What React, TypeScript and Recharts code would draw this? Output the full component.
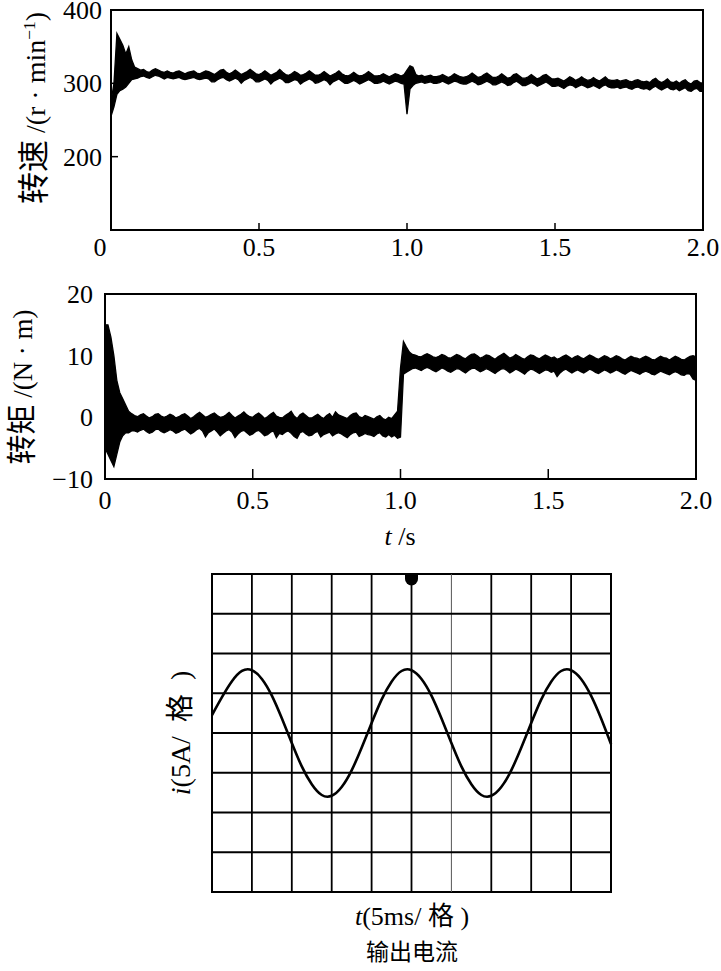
import React from 'react';
import {
  ComposedChart,
  LineChart,
  Line,
  Area,
  XAxis,
  YAxis,
  ReferenceArea,
  ReferenceLine,
  ReferenceDot,
} from 'recharts';

// sampling interval of the two measured traces (s)
const SAMPLE_STEP = 0.01;

// rotor speed envelope, r/min (lower / upper edge of the noisy trace)
const speedLow = [
  255, 268, 285, 290, 292, 295, 300, 305, 306, 307,
  309, 310, 308, 307, 309, 311, 310, 308, 306, 308,
  307, 306, 307, 308, 306, 305, 306, 307, 308, 306,
  305, 306, 307, 306, 302, 302, 305, 307, 308, 305,
  303, 305, 307, 305, 300, 304, 306, 308, 306, 302,
  302, 304, 306, 304, 299, 303, 305, 307, 305, 301,
  301, 303, 305, 304, 299, 302, 304, 306, 304, 300,
  301, 303, 305, 303, 298, 302, 304, 306, 303, 300,
  300, 302, 304, 302, 299, 301, 303, 305, 303, 300,
  300, 301, 303, 301, 299, 301, 303, 302, 300, 299,
  258, 292, 297, 300, 301, 302, 300, 301, 302, 300,
  300, 301, 303, 301, 299, 301, 303, 302, 300, 299,
  299, 301, 303, 301, 298, 299, 301, 303, 301, 298,
  298, 300, 302, 300, 297, 298, 301, 303, 300, 297,
  297, 299, 301, 299, 296, 298, 300, 302, 299, 296,
  296, 297, 295, 293, 296, 298, 297, 294, 296, 298,
  296, 294, 295, 297, 295, 293, 296, 298, 295, 294,
  294, 295, 293, 294, 295, 293, 292, 294, 295, 293,
  292, 293, 291, 294, 296, 293, 291, 293, 295, 292,
  291, 293, 290, 292, 294, 290, 289, 292, 293, 289,
  289,
];
const speedHigh = [
  275, 300, 368, 360, 352, 340, 350, 332, 322, 320,
  318, 319, 316, 315, 318, 320, 318, 316, 315, 317,
  315, 314, 316, 317, 315, 313, 315, 316, 317, 314,
  313, 315, 317, 316, 314, 312, 315, 318, 319, 315,
  313, 315, 318, 315, 312, 314, 316, 319, 316, 313,
  312, 314, 317, 314, 311, 313, 315, 319, 315, 312,
  311, 313, 316, 314, 311, 312, 314, 317, 314, 311,
  311, 313, 316, 313, 310, 312, 314, 317, 313, 311,
  310, 312, 315, 312, 310, 311, 313, 316, 313, 310,
  310, 311, 313, 311, 309, 311, 313, 312, 310, 312,
  318, 324, 322, 312, 310, 311, 309, 310, 311, 309,
  309, 310, 312, 310, 308, 310, 313, 311, 309, 308,
  309, 311, 314, 311, 308, 309, 312, 314, 311, 308,
  308, 310, 313, 310, 307, 308, 312, 313, 310, 307,
  307, 309, 312, 309, 306, 308, 311, 312, 309, 306,
  306, 307, 305, 303, 306, 309, 307, 304, 306, 309,
  306, 304, 305, 308, 305, 303, 306, 309, 305, 304,
  304, 305, 303, 304, 305, 303, 302, 304, 305, 303,
  302, 303, 301, 305, 307, 303, 301, 303, 306, 302,
  301, 303, 300, 303, 305, 301, 299, 303, 304, 301,
  300,
];

// electromagnetic torque envelope, N·m
const torqueLow = [
  -5, -6, -7, -8, -6, -4, -3, -2.5, -2.5, -2.2,
  -2.2, -2.4, -2.1, -1.9, -2.3, -2.6, -2.4, -2.0, -1.9, -2.3,
  -2.5, -2.3, -2.0, -2.2, -2.6, -2.4, -2.1, -1.9, -2.3, -2.7,
  -2.4, -2.0, -1.8, -2.2, -3.2, -2.5, -2.2, -1.9, -2.4, -3.0,
  -2.6, -2.2, -2.0, -2.4, -3.3, -2.7, -2.3, -2.1, -2.5, -2.9,
  -2.7, -2.3, -2.1, -2.5, -3.0, -2.8, -2.4, -2.2, -3.3, -2.6,
  -2.8, -2.4, -2.2, -2.6, -3.1, -3.4, -2.5, -2.3, -2.7, -3.0,
  -2.9, -2.5, -2.3, -3.2, -2.8, -2.6, -2.4, -3.0, -2.7, -2.5,
  -2.7, -3.0, -3.3, -2.8, -2.5, -2.4, -3.1, -2.9, -2.6, -2.8,
  -2.9, -3.1, -2.7, -2.5, -3.0, -3.2, -2.8, -3.2, -2.9, -3.4,
  -3.2, 7.0, 7.3, 7.6, 7.9, 8.0, 7.8, 7.6, 7.9, 8.1,
  7.9, 7.6, 7.4, 7.7, 8.0, 7.8, 7.5, 7.3, 7.6, 7.9,
  7.8, 7.5, 7.2, 7.6, 7.9, 8.0, 7.7, 7.4, 7.6, 7.9,
  7.7, 7.4, 7.1, 7.5, 7.8, 7.9, 7.6, 7.2, 7.5, 7.8,
  7.6, 7.3, 7.0, 7.5, 7.8, 7.7, 7.4, 7.1, 7.4, 7.7,
  7.6, 7.3, 7.5, 6.6, 7.2, 7.6, 7.8, 7.5, 7.2, 7.5,
  7.7, 7.4, 7.2, 7.5, 7.8, 7.6, 7.3, 7.1, 7.4, 7.7,
  7.5, 7.2, 7.4, 7.7, 7.5, 7.2, 7.0, 7.3, 7.6, 7.4,
  7.2, 7.0, 7.3, 7.5, 7.3, 7.0, 6.9, 7.2, 7.5, 7.3,
  7.1, 6.9, 7.2, 7.4, 7.2, 6.9, 6.8, 7.1, 7.0, 6.2,
  6.0,
];
const torqueHigh = [
  15, 15, 13, 10, 6, 4, 3, 2, 1, 0.6,
  0.3, 0.1, 0.4, 0.6, 0.2, -0.1, 0.1, 0.5, 0.6, 0.2,
  0.0, 0.2, 0.5, 0.3, -0.1, 0.1, 0.4, 0.6, 0.2, -0.2,
  0.1, 0.5, 0.8, 0.4, 0.0, 0.2, 0.5, 0.7, 0.3, 0.0,
  0.1, 0.4, 0.8, 0.3, -0.1, 0.2, 0.5, 0.9, 0.4, 0.1,
  0.0, 0.4, 0.7, 0.3, -0.2, 0.1, 0.5, 0.8, 0.2, 0.0,
  -0.1, 0.3, 0.6, 1.0, 0.2, -0.2, 0.4, 0.7, 0.3, -0.1,
  -0.1, 0.2, 0.5, 0.1, -0.2, 0.3, 0.6, 0.0, 0.9, 0.4,
  0.2, 0.0, -0.2, 0.3, 0.6, 0.7, 0.1, -0.1, 0.3, 0.1,
  -0.1, -0.3, 0.1, 0.3, -0.2, -0.4, 0.0, -0.2, 0.4, 1.0,
  8.0, 12.3, 11.4, 10.6, 10.2, 10.1, 9.9, 9.8, 10.1, 10.3,
  10.1, 9.8, 9.7, 9.9, 10.2, 10.0, 9.7, 9.6, 9.9, 10.2,
  10.0, 9.7, 9.5, 9.9, 10.2, 10.3, 10.0, 9.6, 9.8, 10.1,
  10.0, 9.7, 9.4, 9.8, 10.1, 10.4, 10.0, 9.6, 9.8, 10.2,
  9.9, 9.6, 9.4, 9.8, 10.1, 10.0, 9.7, 9.5, 9.8, 10.1,
  9.9, 9.6, 9.8, 9.4, 9.6, 9.9, 10.1, 9.8, 9.5, 9.8,
  10.0, 9.7, 9.5, 9.8, 10.1, 9.9, 9.6, 9.4, 9.7, 10.0,
  9.8, 9.5, 9.7, 10.0, 9.8, 9.5, 9.3, 9.6, 9.9, 9.7,
  9.6, 9.4, 9.7, 9.9, 9.7, 9.4, 9.3, 9.6, 9.9, 9.7,
  9.6, 9.3, 9.6, 9.9, 9.7, 9.4, 9.3, 9.6, 9.9, 10.0,
  9.8,
];

// output current on the scope, in divisions (x: 5 ms/div, y: 5 A/div)
const currentDiv = [
  0, 0.25, 0.5, 0.75, 1, 1.25, 1.5, 1.75, 2, 2.25,
  2.5, 2.75, 3, 3.25, 3.5, 3.75, 4, 4.25, 4.5, 4.75,
  5, 5.25, 5.5, 5.75, 6, 6.25, 6.5, 6.75, 7, 7.25,
  7.5, 7.75, 8, 8.25, 8.5, 8.75, 9, 9.25, 9.5, 9.75, 10,
];
const currentVal = [
  0.45, 0.9, 1.3, 1.56, 1.58, 1.36, 0.94, 0.37, -0.25, -0.84,
  -1.29, -1.56, -1.58, -1.36, -0.94, -0.37, 0.25, 0.84, 1.29, 1.56,
  1.58, 1.36, 0.94, 0.37, -0.25, -0.84, -1.29, -1.56, -1.58, -1.36,
  -0.94, -0.37, 0.25, 0.84, 1.29, 1.56, 1.58, 1.36, 0.94, 0.37, -0.28,
];

const timeTicks = [0, 0.5, 1, 1.5, 2];
const speedTicks = [200, 300, 400];
const torqueTicks = [-10, 0, 10, 20];
const gridCols = [1, 2, 3, 4, 5, 6, 7, 8, 9];
const gridRows = [-3, -2, -1, 0, 1, 2, 3];

const speedData = speedLow.map((lo, i) => ({
  t: +(i * SAMPLE_STEP).toFixed(2),
  band: [lo, speedHigh[i]],
}));
const torqueData = torqueLow.map((lo, i) => ({
  t: +(i * SAMPLE_STEP).toFixed(2),
  band: [lo, torqueHigh[i]],
}));
const currentData = currentDiv.map((d, i) => ({ d, i: currentVal[i] }));

const SERIF = "'Liberation Serif', 'Times New Roman', serif";
const CJK = "'Noto Sans CJK SC', sans-serif";
const fmtTime = (v: number) => (v === 0 ? '0' : v.toFixed(1));
const fmtNum = (v: number) => (v < 0 ? '\u2212' + Math.abs(v) : String(v));

const BottomTick = ({ x, y, payload, zeroShift = 0 }: any) => (
  <text
    x={x + (payload.value === 0 ? zeroShift : 0)}
    y={y}
    dy="0.71em"
    textAnchor="middle"
    fill="#000"
    fontSize={26}
    fontFamily={SERIF}
  >
    {fmtTime(payload.value)}
  </text>
);

const LeftTick = ({ x, y, payload }: any) => (
  <text x={x} y={y} dy="0.34em" textAnchor="end" fill="#000" fontSize={26} fontFamily={SERIF}>
    {fmtNum(payload.value)}
  </text>
);

const TriggerMark = (props: any) => {
  const { cx, cy } = props;
  return (
    <path
      d={`M${cx - 6.5},${cy - 1} L${cx + 6.5},${cy - 1} L${cx + 6.5},${cy + 5} A6.5,6.5 0 0 1 ${cx - 6.5},${cy + 5} Z`}
      fill="#000"
    />
  );
};

const Label = ({ x, y, rotate, size = 26, children }: any) => (
  <div
    style={{
      position: 'absolute',
      left: x,
      top: y,
      transform: `translate(-50%, -50%)${rotate ? ' rotate(-90deg)' : ''}`,
      whiteSpace: 'nowrap',
      fontSize: size,
      lineHeight: 1,
      fontFamily: SERIF,
      color: '#000',
    }}
  >
    {children}
  </div>
);

const Han = ({ children, size }: any) => (
  <span style={{ fontFamily: CJK, fontSize: size }}>{children}</span>
);

export default function App() {
  return (
    <div style={{ position: 'absolute', left: 0, top: 0, width: 721, height: 971, background: '#fff', overflow: 'hidden' }}>
      {/* speed */}
      <div style={{ position: 'absolute', left: 0, top: 0 }}>
        <ComposedChart width={721} height={270} data={speedData} margin={{ top: 10, right: 18, bottom: 8, left: 51 }}>
          <XAxis
            dataKey="t"
            type="number"
            domain={[0, 2]}
            ticks={timeTicks}
            height={32}
            axisLine={false}
            tickSize={-7}
            tickMargin={15}
            tickLine={{ stroke: '#000', strokeWidth: 1.5 }}
            tick={<BottomTick zeroShift={-11} />}
            interval={0}
          />
          <YAxis
            type="number"
            domain={[100, 400]}
            ticks={speedTicks}
            width={60}
            axisLine={false}
            tickSize={-7}
            tickMargin={16}
            tickLine={{ stroke: '#000', strokeWidth: 1.5 }}
            tick={<LeftTick />}
            interval={0}
          />
          <Area
            dataKey="band"
            type="linear"
            stroke="#000"
            strokeWidth={1.3}
            fill="#000"
            fillOpacity={1}
            dot={false}
            activeDot={false}
            isAnimationActive={false}
          />
          <ReferenceArea x1={0} x2={2} y1={100} y2={400} fill="none" stroke="#000" strokeWidth={2} ifOverflow="visible" />
        </ComposedChart>
      </div>

      {/* torque */}
      <div style={{ position: 'absolute', left: 0, top: 270 }}>
        <ComposedChart width={721} height={250} data={torqueData} margin={{ top: 24, right: 25, bottom: 10, left: 45 }}>
          <XAxis
            dataKey="t"
            type="number"
            domain={[0, 2]}
            ticks={timeTicks}
            height={31}
            axisLine={false}
            tickSize={-10}
            tickMargin={22}
            tickLine={{ stroke: '#000', strokeWidth: 1.5 }}
            tick={<BottomTick />}
            interval={0}
          />
          <YAxis
            type="number"
            domain={[-10, 20]}
            ticks={torqueTicks}
            width={60}
            axisLine={false}
            tickLine={false}
            tickSize={0}
            tickMargin={12}
            tick={<LeftTick />}
            interval={0}
          />
          <Area
            dataKey="band"
            type="linear"
            stroke="#000"
            strokeWidth={1.3}
            fill="#000"
            fillOpacity={1}
            dot={false}
            activeDot={false}
            isAnimationActive={false}
          />
          <ReferenceArea x1={0} x2={2} y1={-10} y2={20} fill="none" stroke="#000" strokeWidth={2} ifOverflow="visible" />
        </ComposedChart>
      </div>

      {/* scope current */}
      <div style={{ position: 'absolute', left: 0, top: 560 }}>
        <LineChart width={721} height={340} data={currentData} margin={{ top: 14, right: 110, bottom: 8, left: 212 }}>
          <XAxis dataKey="d" type="number" domain={[0, 10]} hide />
          <YAxis type="number" domain={[-4, 4]} hide />
          {gridCols.map((c) => (
            <ReferenceLine
              key={'c' + c}
              x={c}
              stroke={c === 6 ? '#555' : '#000'}
              strokeWidth={c === 6 ? 1 : 1.8}
            />
          ))}
          {gridRows.map((r) => (
            <ReferenceLine key={'r' + r} y={r} stroke="#000" strokeWidth={1.8} />
          ))}
          <ReferenceArea x1={0} x2={10} y1={-4} y2={4} fill="none" stroke="#000" strokeWidth={2} ifOverflow="visible" />
          <Line
            dataKey="i"
            type="natural"
            stroke="#000"
            strokeWidth={2.6}
            dot={false}
            activeDot={false}
            isAnimationActive={false}
          />
          <ReferenceDot x={5} y={4} r={6} shape={TriggerMark} ifOverflow="visible" />
        </LineChart>
      </div>

      <Label x={32} y={108} rotate size={28}>
        <Han size={32}>转速</Han> /(r · min<span style={{ fontSize: '0.62em', verticalAlign: '0.55em' }}>−1</span>)
      </Label>
      <Label x={20} y={387} rotate size={27}>
        <Han size={30}>转矩</Han> /(N · m)
      </Label>
      <Label x={400} y={537}>
        <i>t</i> /s
      </Label>
      <Label x={179} y={733} rotate size={28}>
        <i>i</i>(5A/&ensp;<Han>格</Han>&ensp;)
      </Label>
      <Label x={412} y={915}>
        <i>t</i>(5ms/ <Han>格</Han> )
      </Label>
      <Label x={412} y={952}>
        <Han size={23}>输出电流</Han>
      </Label>
    </div>
  );
}
